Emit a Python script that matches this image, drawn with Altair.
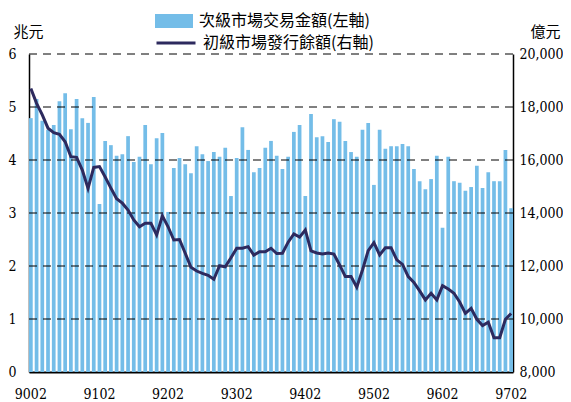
import altair as alt
import pandas as pd

# Month categories (ROC year + month), 9002 .. 9702
months = []
for y in range(90, 98):
    for m in range(1, 13):
        if (y == 90 and m < 2) or (y == 97 and m > 2):
            continue
        months.append(f"{y}{m:02d}")

tick_labels = ["9002", "9102", "9202", "9302", "9402", "9502", "9602", "9702"]

# 次級市場交易金額 (兆元, left axis)
trade = [
    4.79, 5.15, 4.74, 4.57, 4.66, 5.11, 5.26, 4.58, 5.15, 4.79, 4.70, 5.19,
    3.17, 4.36, 4.28, 4.08, 4.11, 4.45, 3.96, 4.06, 4.66, 3.92, 4.41, 4.51,
    3.02, 3.85, 4.04, 3.92, 3.75, 4.26, 4.11, 3.98, 4.15, 4.06, 4.23, 3.32,
    4.04, 4.62, 4.19, 3.77, 3.85, 4.23, 4.36, 4.08, 3.83, 4.06, 4.53, 4.66,
    3.32, 4.87, 4.43, 4.45, 4.34, 4.77, 4.72, 4.36, 4.15, 4.06, 4.57, 4.70,
    3.53, 4.57, 4.21, 4.26, 4.26, 4.30, 4.26, 3.83, 3.60, 3.45, 3.64, 4.08,
    2.72, 4.06, 3.60, 3.57, 3.42, 3.49, 3.89, 3.47, 3.77, 3.60, 3.60, 4.19,
    3.09,
]

# 初級市場發行餘額 (億元, right axis)
issue = [
    18700, 18140, 17700, 17200, 17030, 16970, 16690, 16125, 16100, 15620, 14930, 15720,
    15750, 15360, 14940, 14540, 14370, 14110, 13740, 13480, 13610, 13610, 13170, 13890,
    13480, 12980, 13000, 12480, 11950, 11810, 11720, 11650, 11500, 12010, 11970, 12310,
    12670, 12670, 12730, 12410, 12540, 12540, 12670, 12470, 12480, 12900, 13210, 13090,
    13360, 12570, 12490, 12450, 12490, 12450, 12040, 11600, 11600, 11200, 11850, 12580,
    12880, 12420, 12690, 12690, 12230, 12060, 11600, 11380, 11060, 10720, 10970, 10720,
    11260, 11130, 10970, 10640, 10210, 10400, 9990, 9750, 9880, 9290, 9290, 9990,
    10210,
]

left_ticks = [0, 1, 2, 3, 4, 5, 6]
right_ticks = [8000, 10000, 12000, 14000, 16000, 18000, 20000]
grid_values = [1, 2, 3, 4, 5, 6]

name_bar = "次級市場交易金額(左軸)"
name_line = "初級市場發行餘額(右軸)"

bar_color = "#74BDE8"
line_color = "#2D2A5E"
serif = "DejaVu Serif Condensed, DejaVu Serif"
cjk = "Noto Sans CJK TC"

df = pd.DataFrame({"month": months, "trade": trade, "issue": issue,
                   "s1": name_bar, "s2": name_line})
grid_df = pd.DataFrame({"v": grid_values})

x_enc = alt.X(
    "month:O", sort=months,
    scale=alt.Scale(paddingInner=0.35, paddingOuter=0),
    axis=alt.Axis(values=tick_labels, title=None, labelAngle=0, ticks=False,
                  labelPadding=15, labelFont=serif, labelFontSize=14,
                  labelColor="black", domainColor="black", domainWidth=2),
)

bars = alt.Chart(df).mark_bar().encode(
    x=x_enc,
    y=alt.Y("trade:Q", scale=alt.Scale(domain=[0, 6], nice=False),
            axis=alt.Axis(values=left_ticks, format="d", grid=False, ticks=False,
                          labelPadding=13, labelFont=serif, labelFontSize=14,
                          labelColor="black", domainColor="black", domainWidth=1.5,
                          title="兆元", titleAngle=0, titleAlign="left",
                          titleBaseline="alphabetic", titleX=-16, titleY=-18,
                          titleFont=cjk, titleFontSize=15, titleFontWeight="normal",
                          titleColor="black")),
    color=alt.Color("s1:N", scale=alt.Scale(range=[bar_color]),
                    legend=alt.Legend(title=None, orient="none", legendX=126, legendY=-52,
                                      symbolType="M-1,-0.37H1V0.37H-1Z", symbolSize=1444,
                                      symbolStrokeWidth=0, labelFont=cjk, labelFontSize=16,
                                      labelLimit=400, labelColor="black", labelOffset=6,
                                      padding=0)),
)

grid = alt.Chart(grid_df).mark_rule(color="black", strokeWidth=1, strokeDash=[8, 6]).encode(
    y=alt.Y("v:Q", scale=alt.Scale(domain=[0, 6], nice=False), axis=None)
)

line = alt.Chart(df).mark_line(strokeWidth=3).encode(
    x=x_enc,
    y=alt.Y("issue:Q", scale=alt.Scale(domain=[8000, 20000], nice=False),
            axis=alt.Axis(orient="right", values=right_ticks, format=",.0f", grid=False,
                          ticks=False, labelPadding=6, labelFont=serif, labelFontSize=14,
                          labelColor="black", domainColor="black", domainWidth=1.5,
                          title="億元", titleAngle=0, titleAlign="left",
                          titleBaseline="alphabetic", titleX=17, titleY=-18,
                          titleFont=cjk, titleFontSize=15, titleFontWeight="normal",
                          titleColor="black")),
    stroke=alt.Stroke("s2:N", scale=alt.Scale(range=[line_color]),
                      legend=alt.Legend(title=None, orient="none", legendX=126, legendY=-32,
                                        symbolType="stroke", symbolSize=1521,
                                        symbolStrokeWidth=3, labelFont=cjk, labelFontSize=16,
                                        labelLimit=400, labelColor="black", labelOffset=6,
                                        padding=0)),
)

chart = alt.layer(bars, grid, line).resolve_scale(
    y="independent", color="independent", stroke="independent"
).properties(
    width=484, height=318,
    padding={"left": 21, "top": 46, "right": 50, "bottom": 36},
    autosize=alt.AutoSizeParams(type="none"),
    background="white",
).configure_view(stroke=None)

chart.save("out.html", embed_options={"renderer": "svg", "actions": False})
